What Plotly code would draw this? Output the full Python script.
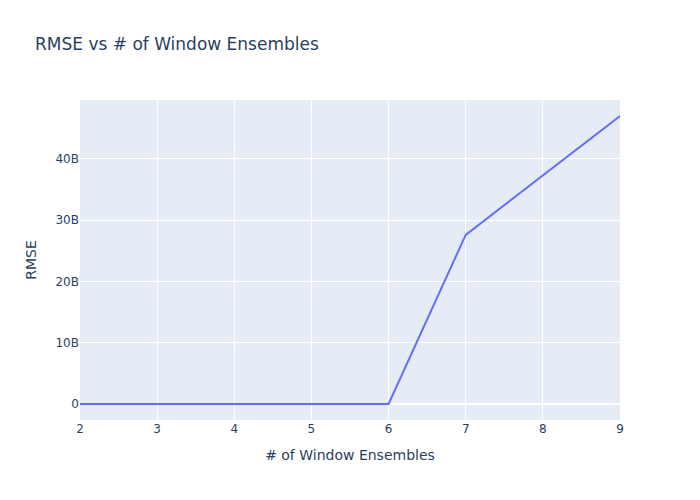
import plotly.graph_objects as go

n_windows = [2, 3, 4, 5, 6, 7, 8, 9]
rmse = [0.82, 0.71, 0.66, 0.69, 0.74, 27.6e9, 37.3e9, 47.0e9]

fig = go.Figure()

fig.add_trace(
    go.Scatter(
        x=n_windows,
        y=rmse,
        mode="lines",
    )
)

fig.update_layout(
    width=700,
    height=500,
    font_family="Verdana, 'DejaVu Sans', sans-serif",
    title_text="RMSE vs # of Window Ensembles",
    xaxis_title="# of Window Ensembles",
    yaxis_title="RMSE",
)

# page body margin would shift the whole figure by 8px
fig.write_html(
    "out.html",
    config={"displayModeBar": False},
    post_script="document.body.style.margin = '0';",
)
